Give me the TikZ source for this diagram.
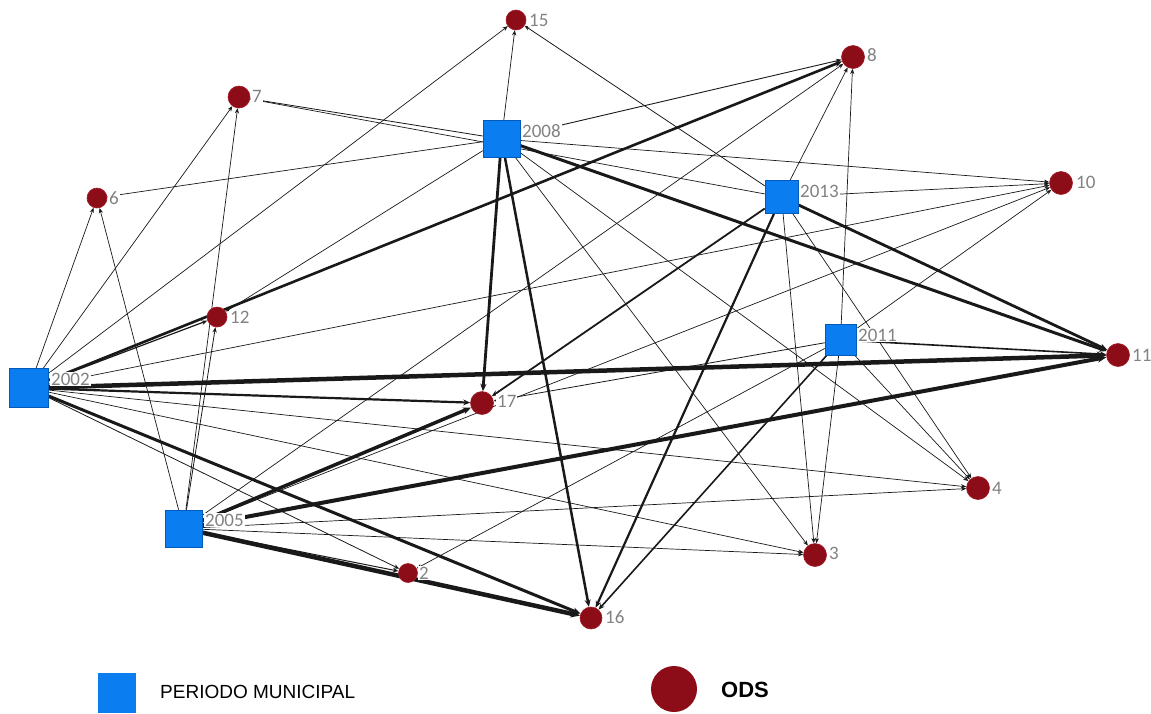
\documentclass[tikz,border=0pt]{standalone}
\usepackage{fontspec}
\setmainfont{Liberation Sans}
\newfontfamily\labelfont{Carlito}
\usetikzlibrary{arrows.meta,backgrounds}
\definecolor{periodblue}{RGB}{10,125,240}
\definecolor{periodedge}{RGB}{0,90,185}
\definecolor{odsred}{RGB}{140,12,24}
\definecolor{odsedge}{RGB}{165,28,38}
\definecolor{labelgray}{RGB}{130,130,130}
\definecolor{linkdark}{RGB}{25,25,25}

\begin{document}
\begin{tikzpicture}[x=1pt,y=-1pt,
  period/.style={shape=rectangle, draw=periodedge, line width=0.6pt, fill=periodblue,
                 minimum size=#1, inner sep=0pt},
  ods/.style={shape=circle, draw=odsedge, line width=0.6pt, fill=odsred,
              minimum size=#1, inner sep=0pt},
  tag/.style={font=\labelfont\fontsize{19}{19}\selectfont, text=labelgray,
              fill=white, inner sep=1pt, anchor=west},
  link/.style={draw=linkdark, -{Stealth[length=4.5pt 1.1, width=3.5pt 1.0]}},
]
\useasboundingbox (0,0) rectangle (1151,713);

% municipal periods
\node[period=39] (p2002) at (29,388) {};
\node[period=37] (p2005) at (183.5,528.5) {};
\node[period=37] (p2008) at (501.5,139) {};
\node[period=33] (p2013) at (781.5,197) {};
\node[period=31] (p2011) at (840.5,340) {};

% sustainable development goals
\node[ods=20] (o15) at (516,20) {};
\node[ods=23] (o8)  at (853,57) {};
\node[ods=22] (o7)  at (239,97) {};
\node[ods=20] (o6)  at (97,198) {};
\node[ods=23] (o10) at (1061,183) {};
\node[ods=20] (o12) at (217,317) {};
\node[ods=23] (o11) at (1118,355) {};
\node[ods=23] (o17) at (482,403) {};
\node[ods=23] (o4)  at (978,488) {};
\node[ods=23] (o3)  at (815,555) {};
\node[ods=19] (o2)  at (408,573) {};
\node[ods=22] (o16) at (591,618) {};

% links, weighted by line width
\begin{scope}[on background layer]
\foreach \t/\w in {o6/0.7, o7/0.7, o15/0.7, o12/1.2, o8/2.6, o10/0.7, o11/4.5,
                   o17/2.2, o4/0.7, o3/0.7, o2/0.8, o16/3.0}
  \draw[link, line width=\w pt] (p2002) -- (\t);
\foreach \t/\w in {o6/0.7, o7/0.7, o12/0.8, o8/0.7, o10/0.7, o11/4.0, o17/3.5,
                   o4/0.7, o3/0.7, o2/1.0, o16/4.5}
  \draw[link, line width=\w pt] (p2005) -- (\t);
\foreach \t/\w in {o15/0.7, o7/0.8, o6/0.7, o12/0.7, o8/0.9, o10/0.7, o11/3.0,
                   o17/2.8, o16/2.5, o4/0.7, o3/0.7}
  \draw[link, line width=\w pt] (p2008) -- (\t);
\foreach \t/\w in {o15/0.7, o7/0.7, o8/0.7, o10/0.7, o11/2.8, o17/1.8, o16/2.2,
                   o4/0.7, o3/0.7}
  \draw[link, line width=\w pt] (p2013) -- (\t);
\foreach \t/\w in {o8/0.7, o10/0.7, o11/1.6, o17/0.8, o16/1.6, o4/0.7, o3/0.7, o2/0.7}
  \draw[link, line width=\w pt] (p2011) -- (\t);
\end{scope}

% labels (white backing hides the links under the text)
\node[tag] (t2002) at (50,379) {2002};
\node[tag] (t2005) at (204,520) {2005};
\node[tag] (t2008) at (521,131) {2008};
\node[tag] (t2013) at (799,191) {2013};
\node[tag] (t2011) at (857,335) {2011};
\node[tag] (t15) at (528,20) {15};
\node[tag] (t8)  at (866,55) {8};
\node[tag] (t7)  at (251,96) {7};
\node[tag] (t6)  at (108,198) {6};
\node[tag] (t10) at (1075,182) {10};
\node[tag] (t12) at (229,317) {12};
\node[tag] (t11) at (1131,355) {11};
\node[tag] (t17) at (496,401) {17};
\node[tag] (t4)  at (991,488) {4};
\node[tag] (t3)  at (828,553) {3};
\node[tag] (t2)  at (418,573) {2};
\node[tag] (t16) at (604,617) {16};

% legend
\node[period=38, minimum height=40, draw=none] (legsq) at (117,693) {};
\node[anchor=west, inner sep=0pt, font=\fontsize{19}{19}\selectfont] (legp)
  at (160,692) {PERIODO MUNICIPAL};
\node[ods=46, draw=none] (legc) at (674,689) {};
\node[anchor=west, inner sep=0pt, font=\bfseries\fontsize{22}{22}\selectfont] (legods)
  at (721,690) {ODS};
\end{tikzpicture}
\end{document}
